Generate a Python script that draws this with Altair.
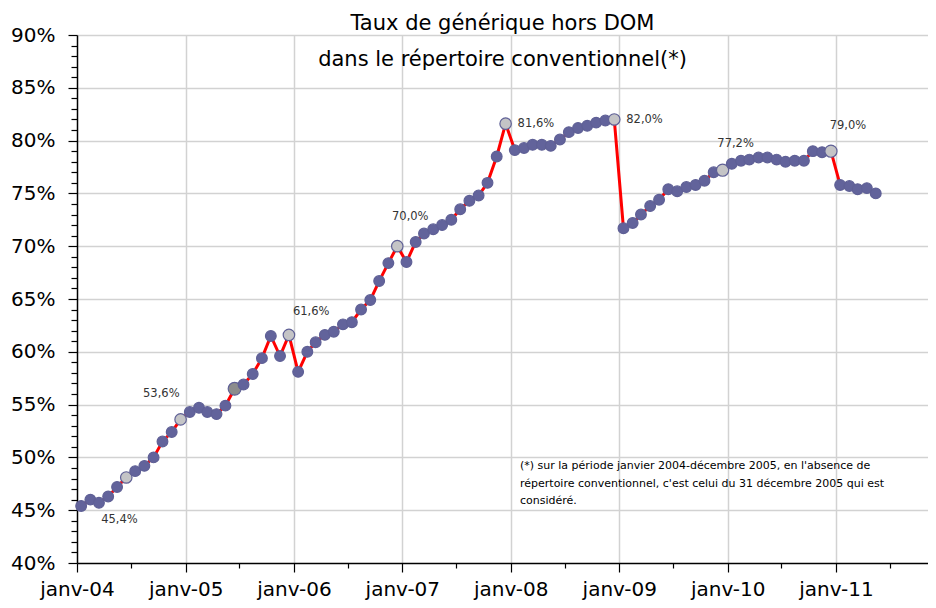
import altair as alt
import pandas as pd

FONT = "DejaVu Sans"

# ---- data ----
months = [m.strftime("%Y-%m") for m in pd.date_range("2004-01-01", periods=89, freq="MS")]
rates = [
    45.4, 46.0, 45.7, 46.3, 47.2, 48.1, 48.7, 49.2, 50.0, 51.5, 52.4, 53.6,   # 2004
    54.3, 54.7, 54.3, 54.1, 54.9, 56.5, 56.9, 57.9, 59.4, 61.5, 59.6, 61.6,   # 2005
    58.1, 60.0, 60.9, 61.6, 61.9, 62.6, 62.8, 64.0, 64.9, 66.7, 68.4, 70.0,   # 2006
    68.5, 70.4, 71.2, 71.6, 72.0, 72.5, 73.5, 74.3, 74.8, 76.0, 78.5, 81.6,   # 2007
    79.1, 79.3, 79.6, 79.6, 79.5, 80.1, 80.8, 81.2, 81.4, 81.7, 81.9, 82.0,   # 2008
    71.7, 72.2, 73.0, 73.8, 74.4, 75.4, 75.2, 75.6, 75.8, 76.2, 77.0, 77.2,   # 2009
    77.8, 78.1, 78.2, 78.4, 78.4, 78.2, 78.0, 78.1, 78.1, 79.0, 78.9, 79.0,   # 2010
    75.8, 75.7, 75.4, 75.5, 75.0,                                             # 2011
]
light_big = ["2004-06", "2004-12", "2005-12", "2006-12", "2007-12", "2008-12"]
light_small = ["2009-12", "2010-12"]
dark = ["2005-06"]

label_months = ["2004-01", "2004-12", "2005-12", "2006-12", "2007-12", "2008-12", "2009-12", "2010-12"]
label_texts = ["45,4%", "53,6%", "61,6%", "70,0%", "81,6%", "82,0%", "77,2%", "79,0%"]

title_lines = ["Taux de générique hors DOM", "dans le répertoire conventionnel(*)"]
note_lines = [
    "(*) sur la période janvier 2004-décembre 2005, en l'absence de",
    "répertoire conventionnel, c'est celui du 31 décembre 2005 qui est",
    "considéré.",
]

# ---- tables ----
def kind_of(m):
    if m in light_big:
        return "light"
    if m in light_small:
        return "light_small"
    if m in dark:
        return "dark"
    return "normal"

df = pd.DataFrame({
    "month": months,
    "date": [m + "-15" for m in months],
    "rate": rates,
})
df["kind"] = [kind_of(m) for m in months]

# ---- scales / axes ----
x_ticks = [alt.DateTime(year=y, month=m, date=1, utc=True)
           for y in range(2004, 2012) for m in (1, 7)]
x_axis = alt.Axis(
    values=x_ticks, title=None,
    labelExpr="utcmonth(datum.value) == 0 ? 'janv-' + utcFormat(datum.value, '%y') : ''",
    labelFont=FONT, labelFontSize=20, labelColor="black", labelPadding=7,
    labelOverlap=False, labelFlush=False,
    tickColor="black", tickWidth=1.2,
    tickSize={"condition": {"test": "utcmonth(datum.value) == 0", "value": 9}, "value": 5},
    domainColor="black", domainWidth=1.5,
    grid=True, gridColor="#d2d2d2", gridWidth=1.5,
    gridOpacity={"condition": {"test": "utcmonth(datum.value) == 0 && utcyear(datum.value) > 2004", "value": 1}, "value": 0},
)
y_axis = alt.Axis(
    values=list(range(40, 91)), title=None,
    labelExpr="datum.value % 5 == 0 ? datum.value + '%' : ''",
    labelFont=FONT, labelFontSize=20, labelColor="black", labelPadding=13,
    labelOverlap=False, labelFlush=False,
    tickColor="black", tickWidth=1.2,
    tickSize={"condition": {"test": "datum.value % 5 == 0", "value": 9}, "value": 6},
    domainColor="black", domainWidth=1.5,
    grid=True, gridColor="#d2d2d2", gridWidth=1.5,
    gridOpacity={"condition": {"test": "datum.value % 5 == 0 && datum.value > 40", "value": 1}, "value": 0},
)
X = alt.X("date:T", axis=x_axis, scale=alt.Scale(
    type="utc",
    domain=[alt.DateTime(year=2004, month=1, date=1, utc=True),
            alt.DateTime(year=2011, month=11, date=7, utc=True)]))
Y = alt.Y("rate:Q", axis=y_axis, scale=alt.Scale(domain=[40, 90], nice=False, zero=False))

base = alt.Chart(df).encode(x=X, y=Y)

line = base.mark_line(color="#ff0000", strokeWidth=3)
points = base.mark_circle(opacity=1, stroke="#5f6096", strokeWidth=1.2).encode(
    color=alt.Color("kind:N", legend=None, scale=alt.Scale(
        domain=["normal", "light", "light_small", "dark"],
        range=["#62639b", "#c4c4c6", "#c4c4c6", "#8c8c8c"])),
    size=alt.Size("kind:N", legend=None, scale=alt.Scale(
        domain=["normal", "light", "light_small", "dark"],
        range=[115, 165, 105, 115])),
)

# label placement: (align, dx, dy) per label
label_style = [
    ("left", 20, 14),
    ("right", -1, -25),
    ("left", 4, -23),
    ("center", 13, -29),
    ("left", 12, 0),
    ("left", 12, 1),
    ("center", 13, -26),
    ("center", 17, -25),
]
label_layers = []
for m, txt, (al, dx, dy) in zip(label_months, label_texts, label_style):
    row = df[df["month"] == m].assign(label=txt)
    label_layers.append(
        alt.Chart(row).mark_text(align=al, dx=dx, dy=dy, baseline="middle",
                                 font=FONT, fontSize=11.5, color="#333333")
        .encode(x=X, y=Y, text="label:N")
    )

note = alt.Chart(pd.DataFrame({"n": [0]})).mark_text(
    text=note_lines, align="left", baseline="top", font=FONT, fontSize=11,
    lineHeight=17.5, color="black",
).encode(x=alt.value(443), y=alt.value(425))

chart = alt.layer(line, points, *label_layers, note).properties(
    width=851, height=528,
    title=alt.TitleParams(text=title_lines, font=FONT, fontSize=21, fontWeight="normal",
                          color="black", anchor="middle", frame="group",
                          lineHeight=36, offset=0, baseline="top", dy=45),
    autosize=alt.AutoSizeParams(type="none"),
    padding={"left": 69, "top": 27, "right": 0, "bottom": 37},
).configure_view(stroke=None).configure(background="white")

chart.save("out.html", embed_options={"renderer": "svg", "actions": False})
